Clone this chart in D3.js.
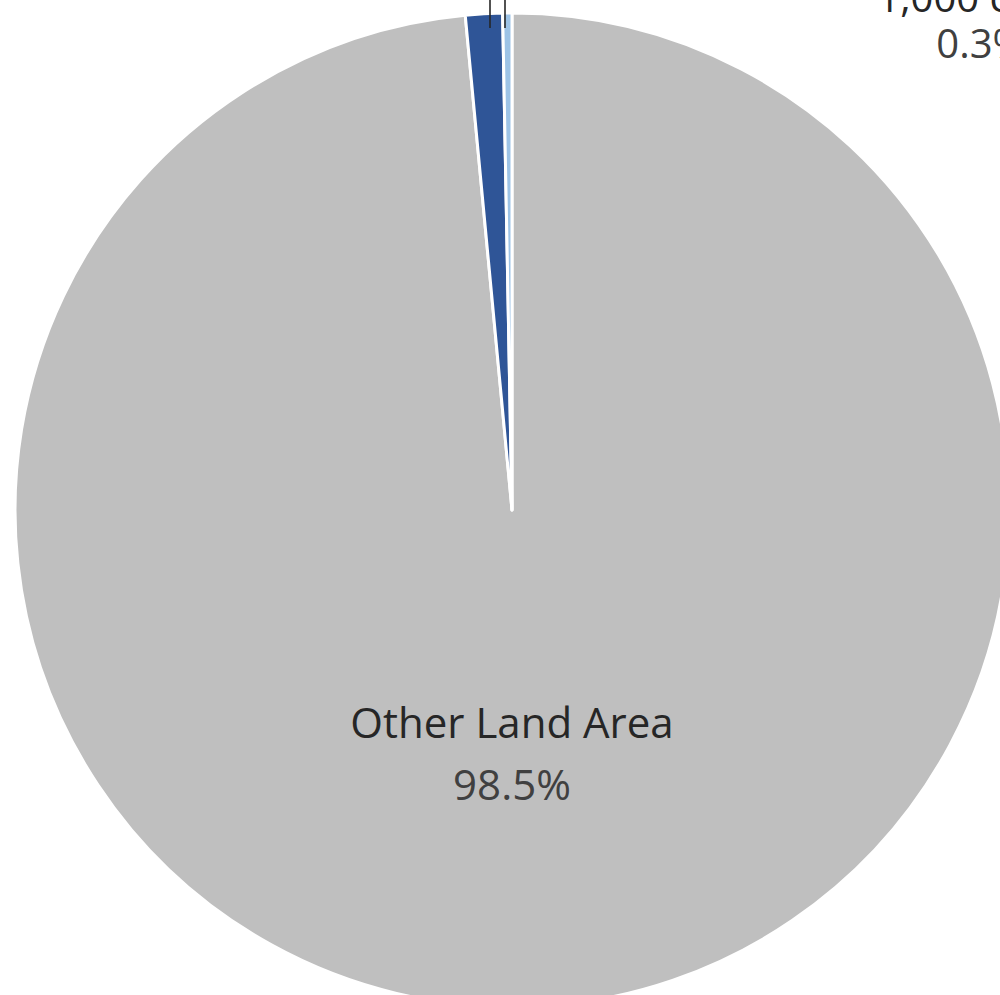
<!DOCTYPE html>
<html>
<head>
<meta charset="utf-8">
<script src="https://cdn.jsdelivr.net/npm/d3@7"></script>
<style>
  html, body { margin: 0; padding: 0; background: #fff; overflow: hidden; }
  svg { display: block; }
</style>
</head>
<body>
<script>
const WIDTH = 1000;
const HEIGHT = 995;
const CX = 512;
const CY = 510;
const RADIUS = 497;
const FONT_SIZE = 42;

// Slice data, in drawing order (clockwise from 12 o'clock).
const categories = ['Other Land Area', 'Urban Area', '1,000 cities'];
const shares = [98.5, 1.2, 0.3];
const percentLabels = ['98.5%', '1.2%', '0.3%'];
const colors = ['#bfbfbf', '#2f5597', '#9dc3e6'];

const data = categories.map((c, i) => ({ name: c, value: shares[i], pct: percentLabels[i], color: colors[i] }));

var svg = d3.select('body')
    .append('svg')
    .attr('width', WIDTH)
    .attr('height', HEIGHT);

var g = svg.append('g').attr('transform', `translate(${CX},${CY})`);

var pie = d3.pie().sort(null).value(d => d.value);
var arc = d3.arc().innerRadius(0).outerRadius(RADIUS);
var arcs = pie(data);

g.selectAll('.slice')
    .data(arcs)
    .enter()
    .append('path')
    .attr('class', 'slice')
    .attr('d', arc)
    .style('fill', d => d.data.color)
    .style('stroke', '#fff')
    .style('stroke-width', 3)
    .style('stroke-linejoin', 'round');

// Big label inside the gray slice.
const main = arcs[0];
g.append('text')
    .attr('x', 0)
    .attr('y', 228)
    .attr('text-anchor', 'middle')
    .style('font-family', '"Open Sans", sans-serif')
    .style('font-size', FONT_SIZE + 'px')
    .style('fill', '#262626')
    .text(main.data.name);
g.append('text')
    .attr('x', 0)
    .attr('y', 290)
    .attr('text-anchor', 'middle')
    .style('font-family', '"Open Sans", sans-serif')
    .style('font-size', FONT_SIZE + 'px')
    .style('fill', '#404040')
    .text(main.data.pct);

// Small slices: leader lines going up out of the frame, labels above.
// (the dark blue one sits above the visible area, as in the source)
const leaderX = [null, -22, -7];
const labelPos = [null, [-120, -640], [469, -498]];
arcs.slice(1).forEach((a, k) => {
    const i = k + 1;
    g.append('line')
        .attr('x1', leaderX[i]).attr('y1', -482)
        .attr('x2', leaderX[i]).attr('y2', -580)
        .style('stroke', '#262626')
        .style('stroke-width', 1.6);
    const t = g.append('text')
        .attr('x', labelPos[i][0])
        .attr('y', labelPos[i][1])
        .attr('text-anchor', 'middle')
        .style('font-family', '"Open Sans", sans-serif')
        .style('font-size', '40px');
    t.append('tspan').attr('x', labelPos[i][0]).attr('dy', 0)
        .style('fill', '#262626').text(a.data.name);
    t.append('tspan').attr('x', labelPos[i][0]).attr('dy', 46)
        .style('fill', '#404040').text(a.data.pct);
});
</script>
</body>
</html>
